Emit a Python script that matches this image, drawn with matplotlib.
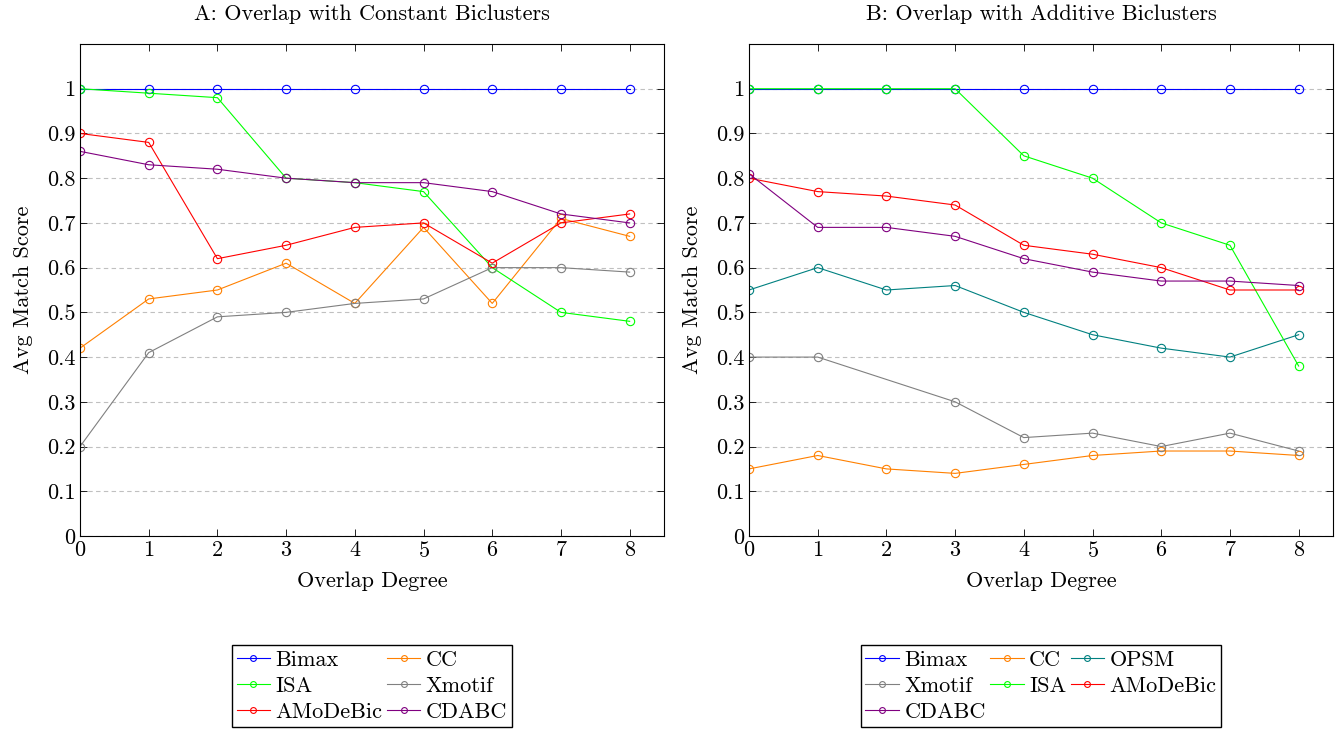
import numpy as np
import matplotlib
matplotlib.use('Agg')
from matplotlib import pyplot as plt

plt.rcParams['font.family'] = 'cmr10'
plt.rcParams['mathtext.fontset'] = 'cm'
plt.rcParams['axes.formatter.use_mathtext'] = True

x = [0, 1, 2, 3, 4, 5, 6, 7, 8]

# panel A: constant biclusters
a_bimax = [1, 1, 1, 1, 1, 1, 1, 1, 1]
a_cc = [0.42, 0.53, 0.55, 0.61, 0.52, 0.69, 0.52, 0.71, 0.67]
a_isa = [1.0, 0.99, 0.98, 0.80, 0.79, 0.77, 0.60, 0.50, 0.48]
a_xmotif = [0.20, 0.41, 0.49, 0.50, 0.52, 0.53, 0.60, 0.60, 0.59]
a_amodebic = [0.90, 0.88, 0.62, 0.65, 0.69, 0.70, 0.61, 0.70, 0.72]
a_cdabc = [0.86, 0.83, 0.82, 0.80, 0.79, 0.79, 0.77, 0.72, 0.70]

# panel B: additive biclusters
b_bimax = [1, 1, 1, 1, 1, 1, 1, 1, 1]
b_cc = [0.15, 0.18, 0.15, 0.14, 0.16, 0.18, 0.19, 0.19, 0.18]
b_opsm = [0.55, 0.60, 0.55, 0.56, 0.50, 0.45, 0.42, 0.40, 0.45]
b_xmotif_x = [0, 1, 3, 4, 5, 6, 7, 8]
b_xmotif = [0.40, 0.40, 0.30, 0.22, 0.23, 0.20, 0.23, 0.19]
b_isa = [1, 1, 1, 1, 0.85, 0.80, 0.70, 0.65, 0.38]
b_amodebic = [0.80, 0.77, 0.76, 0.74, 0.65, 0.63, 0.60, 0.55, 0.55]
b_cdabc = [0.81, 0.69, 0.69, 0.67, 0.62, 0.59, 0.57, 0.57, 0.56]

c = {'Bimax': '#0000ff', 'CC': '#ff8000', 'ISA': '#00ff00', 'Xmotif': '#808080',
     'AMoDeBic': '#ff0000', 'CDABC': '#800080', 'OPSM': '#008080'}

fs = 16

fig = plt.figure(figsize=(13.41, 7.31), dpi=100)
ax1 = fig.add_axes([80/1341, 1-536/731, 584/1341, 492/731])
ax2 = fig.add_axes([749/1341, 1-536/731, 584/1341, 492/731])

def line(ax, xs, ys, name):
    return ax.plot(xs, ys, color=c[name], lw=0.8, marker='o', ms=6, mfc='none',
                   mec=c[name], mew=0.8, label=name)[0]

hA = {}
hA['Bimax'] = line(ax1, x, a_bimax, 'Bimax')
hA['CC'] = line(ax1, x, a_cc, 'CC')
hA['ISA'] = line(ax1, x, a_isa, 'ISA')
hA['Xmotif'] = line(ax1, x, a_xmotif, 'Xmotif')
hA['AMoDeBic'] = line(ax1, x, a_amodebic, 'AMoDeBic')
hA['CDABC'] = line(ax1, x, a_cdabc, 'CDABC')

hB = {}
hB['Bimax'] = line(ax2, x, b_bimax, 'Bimax')
hB['CC'] = line(ax2, x, b_cc, 'CC')
hB['OPSM'] = line(ax2, x, b_opsm, 'OPSM')
hB['Xmotif'] = line(ax2, b_xmotif_x, b_xmotif, 'Xmotif')
hB['ISA'] = line(ax2, x, b_isa, 'ISA')
hB['AMoDeBic'] = line(ax2, x, b_amodebic, 'AMoDeBic')
hB['CDABC'] = line(ax2, x, b_cdabc, 'CDABC')

for ax, title in [(ax1, 'A: Overlap with Constant Biclusters'),
                  (ax2, 'B: Overlap with Additive Biclusters')]:
    ax.set_xlim(0, 8.5)
    ax.set_ylim(0, 1.1)
    ax.set_xticks(x)
    ax.set_yticks(np.arange(0, 11) / 10)
    ax.set_yticklabels(['0'] + ['%.1f' % (i / 10) for i in range(1, 10)] + ['1'])
    ax.yaxis.grid(True, ls=(0, (4, 3)), color='#c0c0c0', lw=0.8)
    ax.set_axisbelow(True)
    ax.tick_params(direction='in', top=True, right=True, labelsize=fs, length=5, width=0.6)
    for s in ax.spines.values():
        s.set_linewidth(0.8)
    ax.set_title(title, fontsize=fs, pad=17)
    ax.set_xlabel('Overlap Degree', fontsize=fs, labelpad=8)
    ax.set_ylabel('Avg Match Score', fontsize=fs, labelpad=10)

legkw = dict(loc='upper center', bbox_to_anchor=(0.5, -0.222), fontsize=fs,
             fancybox=False, edgecolor='black', framealpha=1, borderpad=0.22,
             handlelength=1.5, handletextpad=0.25, columnspacing=0.2,
             labelspacing=0.3, borderaxespad=0, markerscale=0.7)
orderA = ['Bimax', 'ISA', 'AMoDeBic', 'CC', 'Xmotif', 'CDABC']
ax1.legend([hA[k] for k in orderA], orderA, ncol=2, **legkw)
orderB = ['Bimax', 'Xmotif', 'CDABC', 'CC', 'ISA', 'OPSM', 'AMoDeBic']
ax2.legend([hB[k] for k in orderB], orderB, ncol=3, **legkw)

fig.savefig('out.png', dpi=100)
